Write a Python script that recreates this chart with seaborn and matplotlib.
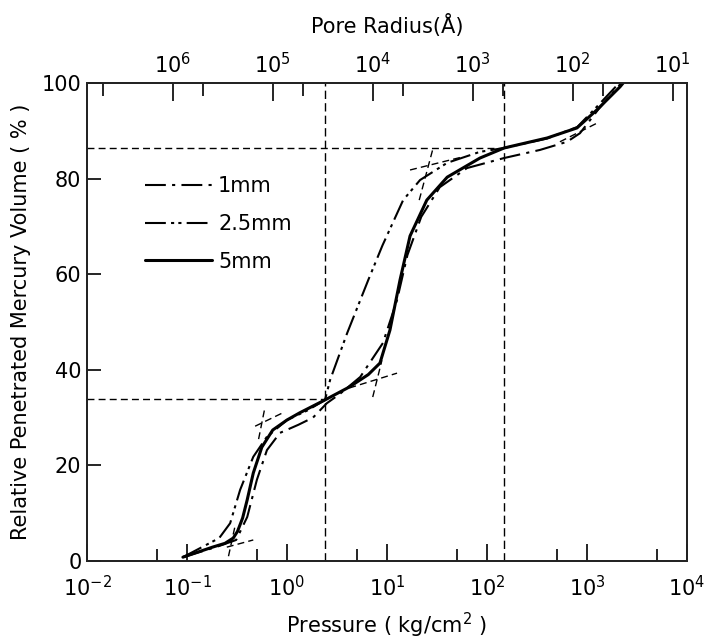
import numpy as np
import pandas as pd
import matplotlib
matplotlib.use("Agg")
import matplotlib.pyplot as plt
import seaborn as sns
from matplotlib.ticker import FixedLocator, LogFormatterSciNotation, NullFormatter

# pressure (kg/cm2) vs relative penetrated mercury volume (%)
p_1mm = [0.091, 0.2, 0.31, 0.40, 0.50, 0.63, 0.85, 1.3, 1.82, 2.5, 3.4, 5.4, 9.1, 12.6, 16, 22, 33.7, 63, 148, 339, 631, 851, 1300, 2200]
v_1mm = [0.8, 3.0, 4.4, 9.2, 17, 23.2, 26.8, 28.5, 30, 33, 35, 38.5, 45.6, 54.6, 64, 72, 78.2, 82.2, 84.3, 86, 87.7, 89.5, 94.5, 100]

p_25mm = [0.091, 0.21, 0.27, 0.34, 0.46, 0.63, 1.0, 1.6, 2.4, 2.7, 4.0, 6.5, 9, 14.5, 21.4, 40, 85, 148, 400, 800, 1250, 2100]
v_25mm = [0.8, 4.8, 7.9, 14.9, 21.8, 26, 29.5, 31.5, 33.7, 37.9, 47.7, 58.8, 66, 75.5, 79.7, 83.3, 85.6, 86.4, 88.4, 90.8, 95, 100]

p_5mm = [0.091, 0.18, 0.24, 0.29, 0.32, 0.36, 0.40, 0.46, 0.56, 0.72, 1.0, 1.34, 2.4, 4.2, 6.5, 8.5, 10.7, 13.5, 17, 25, 40, 85, 148, 400, 794, 1259, 2138, 2300]
v_5mm = [0.8, 2.9, 3.7, 4.8, 6.2, 9.0, 12.8, 18.4, 23.8, 27.4, 29.5, 31, 33.7, 36.4, 39, 41.4, 48.3, 58.8, 68, 75.5, 80.3, 84.3, 86.4, 88.5, 90.6, 94.4, 99.2, 100]

# short tangent construction lines (pairs of end points)
tan_p = [(0.25, 0.46), (0.26, 0.30), (0.48, 0.95), (0.52, 0.60), (4.2, 12.6), (7.2, 8.9), (17, 56), (21, 29), (536, 1259)]
tan_v = [(2.9, 4.4), (1.0, 7.0), (28.2, 31.2), (25.5, 32.0), (36.2, 39.3), (34.3, 42.0), (81.8, 84.5), (75.5, 86.5), (87.7, 91.6)]

# reference (dashed) guide lines
ref_p = [2.4, 148]
ref_v = [33.8, 86.4]

x_ticks = [1e-2, 1e-1, 1e0, 1e1, 1e2, 1e3, 1e4]
x_minor = [5e-2, 5e-1, 5e0, 5e1, 5e2, 5e3]
y_ticks = [0, 20, 40, 60, 80, 100]
r_ticks = [1e1, 1e2, 1e3, 1e4, 1e5, 1e6]
r_minor = [5e1, 5e2, 5e3, 5e4, 5e5, 5e6]
C = 7.2e4  # r(A) = C / P

sns.set_theme(style="ticks")
plt.rcParams['font.family'] = ['DejaVu Sans']
plt.rcParams['mathtext.fontset'] = 'dejavusans'
plt.rcParams['text.color'] = 'black'
plt.rcParams['axes.labelcolor'] = 'black'
plt.rcParams['xtick.color'] = 'black'
plt.rcParams['ytick.color'] = 'black'

fig = plt.figure(figsize=(7.14, 6.4), dpi=100)
ax = fig.add_axes([87 / 714, 1 - 561 / 640, 600 / 714, 478 / 640])

series = [
    ("1mm", p_1mm, v_1mm, (0, (10, 3, 1.5, 3)), 1.5),
    ("2.5mm", p_25mm, v_25mm, (0, (10, 2.5, 1.5, 2, 1.5, 2.5)), 1.5),
    ("5mm", p_5mm, v_5mm, "-", 2.2),
]
handles = []
for name, p, v, ls, lw in series:
    df = pd.DataFrame({"P": p, "V": v})
    sns.lineplot(data=df, x="P", y="V", sort=False, ax=ax, color="black",
                 linestyle=ls, linewidth=lw, label=name, legend=False)
    handles.append(ax.lines[-1])

for tp, tv in zip(tan_p, tan_v):
    ax.plot(tp, tv, color="black", linestyle=(0, (5, 3)), linewidth=1.0)

for rp, rv in zip(ref_p, ref_v):
    ax.plot([x_ticks[0], rp], [rv, rv], color="black", linestyle=(0, (5, 3)), linewidth=1.0)
    ax.axvline(rp, color="black", linestyle=(0, (6, 3)), linewidth=1.0)

ax.set_xscale("log")
ax.set_xlim(1e-2, 1e4)
ax.set_ylim(0, 100)
ax.xaxis.set_major_locator(FixedLocator(x_ticks))
ax.xaxis.set_minor_locator(FixedLocator(x_minor))
ax.xaxis.set_major_formatter(LogFormatterSciNotation())
ax.xaxis.set_minor_formatter(NullFormatter())
ax.set_yticks(y_ticks)
ax.tick_params(axis="x", which="major", direction="in", length=12, width=1.2, labelsize=15, pad=10, top=False)
ax.tick_params(axis="x", which="minor", direction="in", length=9, width=1.2, top=False)
ax.tick_params(axis="y", which="major", direction="in", length=10, width=1.2, labelsize=15, pad=4, right=False)
ax.set_xlabel("Pressure ( kg/cm$^2$ )", fontsize=15, labelpad=8)
ax.set_ylabel("Relative Penetrated Mercury Volume ( % )", fontsize=15, labelpad=8)
for s in ax.spines.values():
    s.set_linewidth(1.3)
    s.set_color("black")

ax2 = ax.twiny()
ax2.set_xscale("log")
ax2.set_xlim(C / 1e-2, C / 1e4)
ax2.xaxis.set_major_locator(FixedLocator(r_ticks))
ax2.xaxis.set_minor_locator(FixedLocator(r_minor))
ax2.xaxis.set_major_formatter(LogFormatterSciNotation())
ax2.xaxis.set_minor_formatter(NullFormatter())
ax2.tick_params(axis="x", which="major", direction="in", length=13, width=1.2, labelsize=15, pad=4)
ax2.tick_params(axis="x", which="minor", direction="in", length=9, width=1.2)
ax2.set_xlabel("Pore Radius(Å)", fontsize=15, labelpad=14)

ax.legend(handles=handles, labels=[s[0] for s in series], loc="upper left",
          bbox_to_anchor=(0.097, 0.805), frameon=False, fontsize=15,
          handlelength=3.2, handletextpad=0.3, labelspacing=0.85,
          borderpad=0, borderaxespad=0)

fig.savefig("out.png", dpi=100)
